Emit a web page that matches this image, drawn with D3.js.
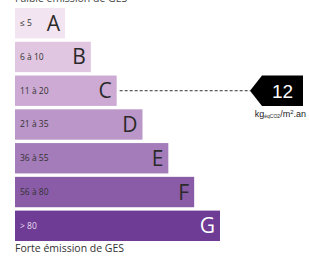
<!DOCTYPE html>
<html>
<head>
<meta charset="utf-8">
<script src="https://cdn.jsdelivr.net/npm/d3@7"></script>
<style>
  body { margin: 0; background: #fff; }
  svg { display: block; font-family: "Open Sans", "Liberation Sans", sans-serif; }
</style>
</head>
<body>
<svg id="mainsvg" width="309" height="257"></svg>
<script>
const letters = ['A', 'B', 'C', 'D', 'E', 'F', 'G'];
const ranges = ['≤ 5', '6 à 10', '11 à 20', '21 à 35', '36 à 55', '56 à 80', '> 80'];
const thresholds = [5, 10, 20, 35, 55, 80];
const colors = ['#f3e4f1', '#e0c6e1', '#cdaad3', '#bb96c8', '#a47cba', '#8a5ca8', '#6e3b95'];
const value = 12;
const unit = 'kg';

const svg = d3.select('#mainsvg');
const width = +svg.attr('width');

const y = d3.scaleBand()
  .domain(letters)
  .range([8, 241])
  .paddingInner(0.1)
  .paddingOuter(0);

const w = d3.scaleLinear()
  .domain([0, letters.length - 1])
  .range([50, 205]);

const left = 15;

// titre haut (coupé dans l'original)
svg.append('text')
  .attr('x', left).attr('y', 2)
  .attr('font-size', 10.5).attr('fill', '#444')
  .text('Faible émission de GES');

const bars = svg.selectAll('g.bar')
  .data(letters)
  .join('g')
  .attr('class', 'bar')
  .attr('transform', d => `translate(${left}, ${y(d)})`);

bars.append('rect')
  .attr('width', (d, i) => w(i))
  .attr('height', y.bandwidth())
  .attr('fill', (d, i) => colors[i]);

bars.append('text')
  .attr('x', 5)
  .attr('y', y.bandwidth() / 2 + 3)
  .attr('font-size', 8.5)
  .attr('fill', (d, i) => i === 6 ? '#eadff0' : '#333')
  .text((d, i) => ranges[i]);

bars.append('text')
  .attr('x', (d, i) => w(i) - 5)
  .attr('y', y.bandwidth() / 2 + 7.5)
  .attr('text-anchor', 'end')
  .attr('font-size', 21)
  .attr('fill', (d, i) => i === 6 ? '#fff' : '#2a2a2a')
  .text(d => d);

svg.append('text')
  .attr('x', left).attr('y', 252)
  .attr('font-size', 10.5).attr('fill', '#333')
  .text('Forte émission de GES');

// indicateur
const idx = d3.bisectLeft(thresholds, value);
const cls = letters[idx];
const cy = y(cls) + y.bandwidth() / 2;
const tip = 250, right = 303;
const y0 = y(cls), y1 = y(cls) + y.bandwidth();

svg.append('line')
  .attr('x1', left + w(idx) + 3).attr('x2', tip)
  .attr('y1', cy).attr('y2', cy)
  .attr('stroke', '#333').attr('stroke-width', 1)
  .attr('stroke-dasharray', '3,2');

svg.append('polygon')
  .attr('points', [[tip, cy], [tip + 12, y0], [right, y0], [right, y1], [tip + 12, y1]].join(' '))
  .attr('fill', '#000');

svg.append('text')
  .attr('x', (tip + 12 + right) / 2).attr('y', cy + 7)
  .attr('text-anchor', 'middle')
  .attr('font-family', '"Liberation Sans", sans-serif')
  .attr('font-size', 19).attr('fill', '#fff')
  .text(value);

const u = svg.append('text')
  .attr('x', 306).attr('y', y1 + 11)
  .attr('text-anchor', 'end')
  .attr('font-family', '"Liberation Sans", sans-serif')
  .attr('font-size', 9).attr('fill', '#222');
u.append('tspan').text(unit);
u.append('tspan').attr('font-size', 5).attr('dy', 1.5).text('éqCO2');
u.append('tspan').attr('dy', -1.5).text('/m');
u.append('tspan').attr('font-size', 6).attr('dy', -3).text('2');
u.append('tspan').attr('dy', 3).text('.an');
</script>
</body>
</html>
